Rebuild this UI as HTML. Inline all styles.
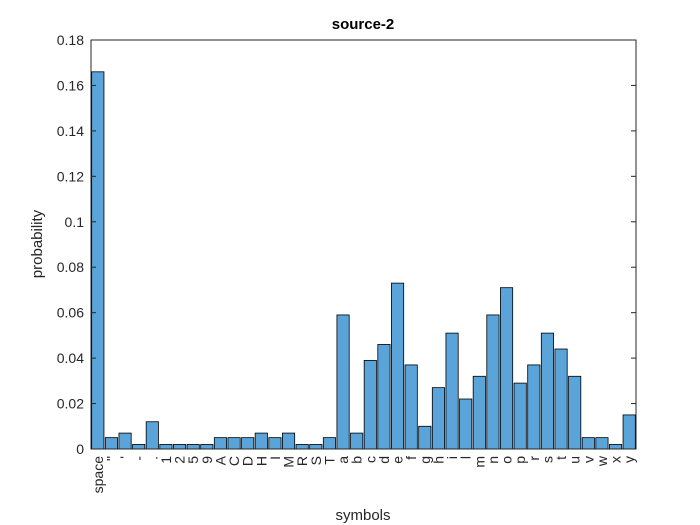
<!DOCTYPE html>
<html><head><meta charset="utf-8"><style>
html,body{margin:0;padding:0;background:#fff;}
svg{display:block;font-family:"Liberation Sans",Arial,sans-serif;}
</style></head><body>
<svg id="chart" width="700" height="525" viewBox="0 0 700 525" xmlns="http://www.w3.org/2000/svg">
<rect x="0" y="0" width="700" height="525" fill="#fff"/>
<text x="363" y="29" text-anchor="middle" font-size="15" font-weight="bold" fill="#000">source-2</text>
<text x="363" y="520" text-anchor="middle" font-size="15" fill="#262626">symbols</text>
<text transform="translate(42,244) rotate(-90)" text-anchor="middle" font-size="15" fill="#262626">probability</text>
<g id="bars"></g>
<g id="axes"></g>
</svg>
<script>
const categories = ["space","\"","'","-",".","1","2","5","9","A","C","D","H","I","M","R","S","T","a","b","c","d","e","f","g","h","i","l","m","n","o","p","r","s","t","u","v","w","x","y"];
const probabilities = [0.166,0.005,0.007,0.002,0.012,0.002,0.002,0.002,0.002,0.005,0.005,0.005,0.007,0.005,0.007,0.002,0.002,0.005,0.059,0.007,0.039,0.046,0.073,0.037,0.010,0.027,0.051,0.022,0.032,0.059,0.071,0.029,0.037,0.051,0.044,0.032,0.005,0.005,0.002,0.015];
const yTicks = [0,0.02,0.04,0.06,0.08,0.1,0.12,0.14,0.16,0.18];
const yTickLabels = ["0","0.02","0.04","0.06","0.08","0.1","0.12","0.14","0.16","0.18"];

const NS="http://www.w3.org/2000/svg";
const L=91,R=636,T=40,B=449;
const yMax=0.18;
function xScale(i){return L+(i+1-0.5)*(R-L)/categories.length;}
function yScale(v){return B-v/yMax*(B-T);}
function mk(tag,attrs,parent){const e=document.createElementNS(NS,tag);for(const k in attrs)e.setAttribute(k,attrs[k]);parent.appendChild(e);return e;}
const bars=document.getElementById('bars');
const axes=document.getElementById('axes');
const bw=0.9*(R-L)/categories.length;
probabilities.forEach((v,i)=>{
  const cx=xScale(i);
  const r=mk('rect',{x:cx-bw/2,y:yScale(v),width:bw,height:B-yScale(v),fill:'#5aa4da',stroke:'#000','stroke-width':0.8},bars);
  
  
  const t=mk('text',{transform:`translate(${cx+5},${B+7}) rotate(-90)`,'text-anchor':'end','font-size':14,fill:'#262626'},axes);
  t.textContent=categories[i];
  
  
});
yTicks.forEach((v,i)=>{
  const y=yScale(v);
  mk('line',{x1:L,x2:L+5,y1:y,y2:y,stroke:'#262626','stroke-width':1},axes);
  mk('line',{x1:R,x2:R-5,y1:y,y2:y,stroke:'#262626','stroke-width':1},axes);
  const t=mk('text',{x:L-7,y:y+5,'text-anchor':'end','font-size':14,fill:'#262626'},axes);
  t.textContent=yTickLabels[i];
  
  
});
const box=mk('rect',{x:L,y:T,width:R-L,height:B-T,fill:'none',stroke:'#262626','stroke-width':1},axes);


</script>
</body></html>
